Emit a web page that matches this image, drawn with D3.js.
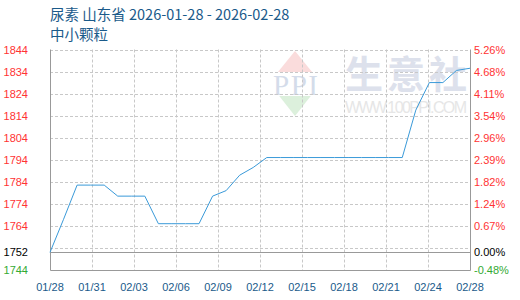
<!DOCTYPE html>
<html>
<head>
<meta charset="utf-8">
<script src="https://cdn.jsdelivr.net/npm/d3@7"></script>
<style>
body { margin:0; background:#fff; }
text { font-family: "Liberation Sans", Arial, sans-serif; }
</style>
</head>
<body>
<div id="chart"></div>
<script>
// daily prices, 01/28 .. 02/28
var dates = [];
(function(){
  var d = new Date(2026, 0, 28);
  for (var i = 0; i < 32; i++) {
    dates.push(d3.timeFormat("%m/%d")(d));
    d.setDate(d.getDate() + 1);
  }
})();
var prices = [1752, 1767, 1782.5, 1782.5, 1782.5, 1777.5, 1777.5, 1777.5,
              1765, 1765, 1765, 1765, 1777.5, 1780, 1787, 1790.5,
              1795, 1795, 1795, 1795, 1795, 1795, 1795, 1795, 1795, 1795, 1795,
              1816.5, 1829, 1829, 1834.5, 1835.5];
var xTickLabels = ["01/28","01/31","02/03","02/06","02/09","02/12","02/15","02/18","02/21","02/24","02/28"];
var yTicks = [1844, 1834, 1824, 1814, 1804, 1794, 1784, 1774, 1764, 1754];
var leftLabels = ["1844","1834","1824","1814","1804","1794","1784","1774","1764","1752","1744"];
var leftValues = [1844, 1834, 1824, 1814, 1804, 1794, 1784, 1774, 1764, 1752, 1744];
var rightLabels = ["5.26%","4.68%","4.11%","3.54%","2.96%","2.39%","1.82%","1.24%","0.67%","0.00%","-0.48%"];
var base = 1752;

(function(){
var w = 520, h = 300;
var pl = 50, pr = 470, pt = 49.5, pb = 270;

var svg = d3.select("#chart").append("svg")
    .attr("width", w).attr("height", h);

var x = d3.scalePoint().domain(dates).range([pl, pr]);
var xt = d3.scaleLinear().domain([0, xTickLabels.length - 1]).range([pl, pr]);
var y = d3.scaleLinear().domain([1744, 1844]).range([pb, pt]);

// watermark
var wm = svg.append("g");
wm.append("path")
  .attr("d", "M295,51 L321,83 L269,83 Z").attr("fill", "#fadcdc");
wm.append("path")
  .attr("d", "M269,83 L321,83 L295,116 Z").attr("fill", "#dcf0dc");
wm.append("rect").attr("x", 268).attr("y", 72).attr("width", 54).attr("height", 24).attr("fill", "#fff");
wm.append("text").attr("x", 273).attr("y", 95)
  .style("font-family", "Liberation Serif").style("font-size", "29px")
  .attr("fill", "#d4dcea").attr("textLength", 45).text("PPI");
wm.append("text").attr("x", 345).attr("y", 88)
  .style("font-family", "Noto Sans CJK SC").style("font-size", "38px").style("font-weight", "bold")
  .attr("fill", "#dde1ec").attr("textLength", 122).text("生意社");
wm.append("text").attr("x", 345).attr("y", 113)
  .style("font-size", "16px").attr("fill", "#e6e6e6")
  .attr("textLength", 122).text("WWW.100PPI.COM");

// grid
svg.selectAll(".hg").data(yTicks).enter().append("line")
  .attr("x1", pl).attr("x2", pr)
  .attr("y1", function(d){ return Math.round(y(d)) + 0.5; })
  .attr("y2", function(d){ return Math.round(y(d)) + 0.5; })
  .attr("stroke", "#c8c8c8").attr("stroke-dasharray", "3,2");
svg.selectAll(".vg").data(d3.range(1, xTickLabels.length - 1)).enter().append("line")
  .attr("x1", function(d){ return Math.round(xt(d)) + 0.5; })
  .attr("x2", function(d){ return Math.round(xt(d)) + 0.5; })
  .attr("y1", pt).attr("y2", pb)
  .attr("stroke", "#c8c8c8").attr("stroke-dasharray", "3,2");

// base line and frame
svg.append("line").attr("x1", pl).attr("x2", pr)
  .attr("y1", Math.round(y(base)) + 0.5).attr("y2", Math.round(y(base)) + 0.5)
  .attr("stroke", "#999");
svg.append("path")
  .attr("d", "M" + (pl + 0.5) + "," + pt + "V" + (pb + 0.5) + "H" + (pr + 0.5) + "V" + pt)
  .attr("fill", "none").attr("stroke", "#999");

// line
var line = d3.line()
  .x(function(d, i){ return x(dates[i]); })
  .y(function(d){ return y(d); });
svg.append("path").datum(prices)
  .attr("d", line).attr("fill", "none")
  .attr("stroke", "#3a9ad9").attr("stroke-width", 1);

function labColor(v) { return v > base ? "#ff3333" : (v < base ? "#33aa33" : "#000"); }

svg.selectAll(".ll").data(leftValues).enter().append("text")
  .attr("x", 28).attr("y", function(d){ return y(d) + 4; })
  .attr("text-anchor", "end").style("font-size", "11px")
  .attr("fill", labColor)
  .text(function(d, i){ return leftLabels[i]; });

svg.selectAll(".rl").data(leftValues).enter().append("text")
  .attr("x", 474).attr("y", function(d){ return y(d) + 4; })
  .style("font-size", "11px")
  .attr("fill", labColor)
  .text(function(d, i){ return rightLabels[i]; });

svg.selectAll(".xl").data(xTickLabels).enter().append("text")
  .attr("x", function(d, i){ return xt(i); }).attr("y", 291)
  .attr("text-anchor", "middle").style("font-size", "11px")
  .attr("fill", "#1a5a8a")
  .text(function(d){ return d; });

// title
svg.append("text").attr("x", 50).attr("y", 20)
  .style("font-family", "Noto Sans CJK SC").style("font-size", "14.5px")
  .attr("fill", "#1a5a8a").text("尿素 山东省 2026-01-28 - 2026-02-28");
svg.append("text").attr("x", 50).attr("y", 40)
  .style("font-family", "Noto Sans CJK SC").style("font-size", "14.5px")
  .attr("fill", "#1a5a8a").text("中小颗粒");
})();
</script>
</body>
</html>
